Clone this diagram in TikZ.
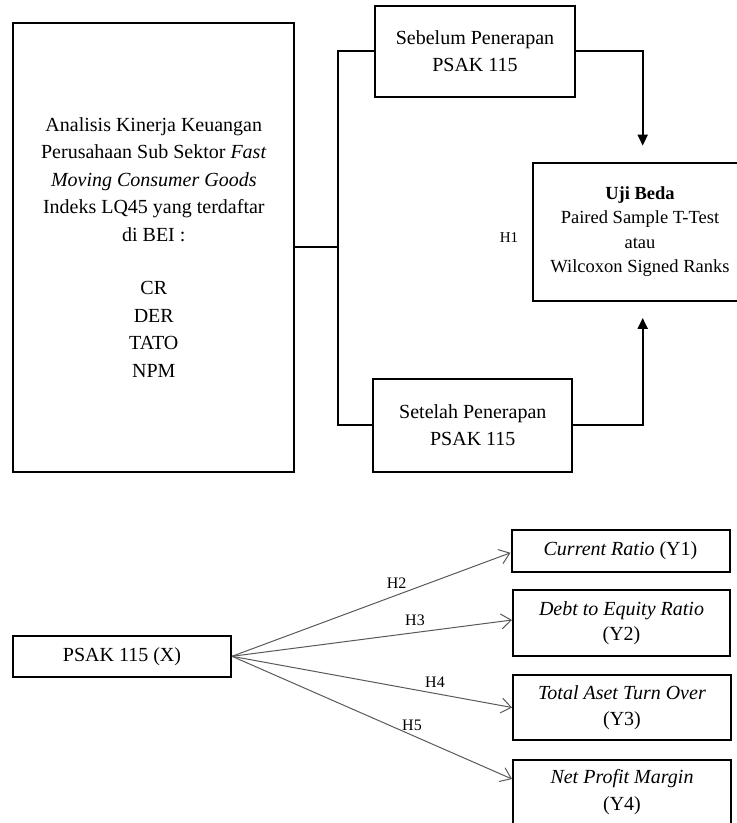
\documentclass[tikz,border=0pt]{standalone}
\usepackage{fontspec}
\setmainfont{Liberation Serif}
\usetikzlibrary{arrows.meta}
\begin{document}
\begin{tikzpicture}[x=1pt,y=-1pt,
  box/.style={draw, line width=2pt, inner sep=0pt, align=center, font=\fontsize{20}{27.5}\selectfont},
  link/.style={line width=2pt},
  arr/.style={line width=2pt, -{Triangle[length=11pt,width=10pt]}, shorten >=16pt},
  parr/.style={draw=black!65, line width=1pt, -{Straight Barb[length=10pt,width=15pt]}},
  hlab/.style={inner sep=0pt, font=\fontsize{16}{16}\selectfont}
]
\useasboundingbox (0,0) rectangle (737,823);
\begin{scope}
\clip (0,0) rectangle (737,823);
% top part
\node[box, minimum width=281pt, minimum height=449pt] (big) at (153.8,247.2)
  {Analisis Kinerja Keuangan\\ Perusahaan Sub Sektor \textit{Fast}\\ \textit{Moving Consumer Goods}\\ Indeks LQ45 yang terdaftar\\ di BEI :\\[26pt] CR\\ DER\\ TATO\\ NPM};
\node[box, minimum width=200pt, minimum height=90.7pt] (sebelum) at (475,51.3)
  {Sebelum Penerapan\\ PSAK 115};
\node[box, minimum width=199pt, minimum height=92.7pt] (setelah) at (472.8,425.3)
  {Setelah Penerapan\\ PSAK 115};
\node[box, minimum width=213.4pt, minimum height=138.3pt, font=\fontsize{18.5}{24.5}\selectfont] (uji) at (640,231.8)
  {\textbf{Uji Beda}\\ Paired Sample T-Test\\ atau\\ Wilcoxon Signed Ranks};
\node[hlab, font=\fontsize{15}{15}\selectfont] (h1) at (509,238) {H1};
\coordinate (jt) at (338.3,51.3);
\coordinate (ua) at (642.7,231.8);
\draw[link] (big.east) -- (big.east -| jt);
\draw[link] (sebelum.west) -- (jt) |- (setelah.west);
\draw[arr] (sebelum.east) -| (ua |- uji.north);
\draw[arr] (setelah.east) -| (ua |- uji.south);
% bottom part
\node[box, minimum width=218pt, minimum height=40.7pt] (psak) at (122,656.3) {PSAK 115 (X)};
\node[box, minimum width=218pt, minimum height=41.7pt] (y1) at (620.5,550.8) {\textit{Current Ratio} (Y1)};
\node[box, minimum width=217pt, minimum height=66pt, font=\fontsize{20}{25.5}\selectfont] (y2) at (621.5,623) {\textit{Debt to Equity Ratio}\\ (Y2)};
\node[box, minimum width=218pt, minimum height=65pt, font=\fontsize{20}{25.5}\selectfont] (y3) at (622,707.5) {\textit{Total Aset Turn Over}\\ (Y3)};
\node[box, minimum width=218pt, minimum height=65pt, font=\fontsize{20}{27}\selectfont] (y4) at (622,792.5) {\textit{Net Profit Margin}\\ (Y4)};
\draw[parr] (psak.east) -- ([yshift=-2pt]y1.west);
\draw[parr] (psak.east) -- ([yshift=3pt]y2.west);
\draw[parr] (psak.east) -- (y3.west);
\draw[parr] (psak.east) -- ([yshift=13.5pt]y4.west);
\node[hlab] (h2) at (396.7,583) {H2};
\node[hlab] (h3) at (415,620) {H3};
\node[hlab] (h4) at (435,682) {H4};
\node[hlab] (h5) at (412,725) {H5};
\end{scope}
\end{tikzpicture}
\end{document}
